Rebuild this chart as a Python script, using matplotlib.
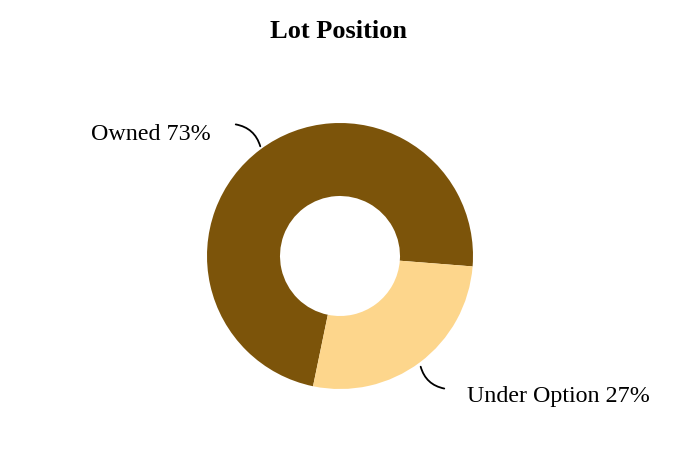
import matplotlib
matplotlib.use("Agg")
import matplotlib.pyplot as plt

# lot position split
labels = ["Owned", "Under Option"]
shares = [73, 27]
colors = ["#7C540A", "#FDD68C"]

plt.rcParams['font.family'] = ['Liberation Serif', 'DejaVu Serif']

fig = plt.figure(figsize=(6.8, 4.52), dpi=100)
ax = fig.add_axes([0, 0, 1, 1])

# pixel-like data units, y up
cx, cy, r = 340, 195, 133
ax.pie(shares, colors=colors, startangle=-4.5, counterclock=True,
       center=(cx, cy), radius=r, frame=True,
       wedgeprops=dict(width=73, edgecolor="none"))
ax.set_xlim(0, 680)
ax.set_ylim(0, 452)
ax.set_aspect("equal")
ax.axis("off")

ax.text(339, 420, "Lot Position", ha="center", va="center",
        fontsize=19, fontweight="bold")

# labels with curved leader lines
ax.text(211, 318, f"{labels[0]} {shares[0]}%", ha="right", va="center", fontsize=17.3)
ax.annotate("", xy=(261, 302), xytext=(233, 327),
            arrowprops=dict(arrowstyle="-", color="black", lw=1.3,
                            connectionstyle="arc3,rad=-0.35"))

ax.text(467, 55, f"{labels[1]} {shares[1]}%", ha="left", va="center", fontsize=17.3)
ax.annotate("", xy=(447, 62), xytext=(420, 87),
            arrowprops=dict(arrowstyle="-", color="black", lw=1.3,
                            connectionstyle="arc3,rad=0.35"))

fig.savefig("out.png", dpi=100)
